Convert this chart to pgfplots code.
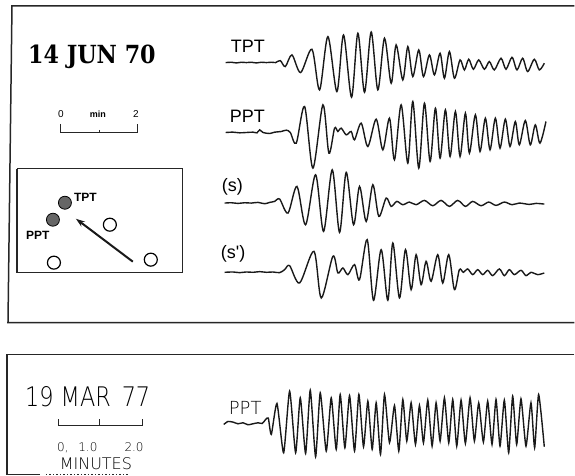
\documentclass[border=0pt]{standalone}
\usepackage{fontspec}
\setmainfont{Liberation Sans}
\newfontfamily\datefont{DejaVu Serif}
\newfontfamily\plotfont{DejaVu Sans ExtraLight}
\usepackage{pgfplots}
\usepackage{pgfplotstable}
\pgfplotsset{compat=1.18}
\usetikzlibrary{arrows.meta}

% TPT trace (crop coords, origin 220,20, scale 3)
\pgfplotstableread{
X Y
18 128
35 127
50 129
65 127
80 128
95 127
110 129
125 127
140 128
155 127
168 128
182 122
197 140
217 105
243 158
277 88
300 210
325 50
352 215
372 45
396 232
415 40
435 217
455 36
475 210
495 55
515 190
530 75
550 180
565 80
580 170
598 90
612 170
630 105
645 165
662 100
675 175
690 95
705 175
722 120
735 150
748 118
762 148
778 120
795 148
810 125
825 150
845 115
860 148
878 112
893 150
910 115
925 155
945 118
960 150
975 130
}\tptA

% PPT trace (origin 220,90)
\pgfplotstableread{
X Y
18 128
40 127
60 129
80 128
100 127
112 129
120 120
130 128
150 131
165 127
185 125
200 121
212 128
230 160
255 50
280 235
310 45
328 190
345 115
355 125
365 115
380 135
395 125
405 150
425 100
445 170
470 88
490 180
510 85
525 210
545 45
565 220
580 35
598 235
615 40
632 215
648 55
662 205
678 60
692 200
708 65
722 200
738 70
750 190
768 75
782 185
798 85
812 180
828 85
842 175
858 88
872 170
888 95
900 165
918 92
933 165
948 105
962 160
980 95
}\pptA

% (s) trace (origin 220,160)
\pgfplotstableread{
X Y
15 130
35 129
55 131
75 129
95 130
115 128
135 132
150 128
165 125
180 118
205 160
232 80
258 195
288 45
312 215
338 30
360 218
380 38
402 195
420 80
440 185
460 75
478 170
500 115
515 140
532 125
550 135
570 127
590 135
615 122
640 138
665 122
690 140
715 122
738 140
760 125
785 138
808 127
830 137
855 127
878 135
900 130
930 134
950 131
975 133
}\sA

% (s') trace (origin 220,220)
\pgfplotstableread{
X Y
15 158
40 157
60 159
80 157
100 158
120 156
140 158
160 157
180 159
195 150
210 138
240 190
283 95
305 235
340 110
355 160
370 145
385 165
405 135
420 180
443 60
462 242
485 90
505 242
520 70
540 235
558 90
575 210
590 105
605 195
620 125
635 185
655 105
670 190
688 105
705 210
720 150
732 158
745 148
760 165
775 150
790 165
805 152
820 168
840 148
855 168
870 150
885 165
905 152
920 168
935 158
955 165
975 160
}\spA

% 19 MAR 77 PPT trace (origin 220,370)
\pgfplotstableread{
X Y
12 165
25 156
40 158
55 163
70 160
85 166
100 163
115 160
128 162
138 150
146 146
155 195
172 102
192 250
210 65
228 250
242 85
258 252
272 62
288 262
302 70
320 245
335 85
350 240
362 75
376 235
390 78
405 245
418 75
432 232
445 95
458 240
470 100
483 255
495 75
510 220
525 108
538 245
550 90
562 215
575 100
588 225
600 108
612 220
625 92
638 230
650 100
662 215
675 85
688 220
700 90
712 230
725 92
738 222
752 85
765 215
778 100
792 218
805 95
818 225
830 90
842 230
855 92
868 250
880 80
892 225
905 88
920 230
935 100
946 235
958 75
975 232
}\pptB

\begin{document}
\begin{tikzpicture}
\begin{axis}[
  width=575pt, height=476pt, scale only axis,
  xmin=0, xmax=575, ymin=0, ymax=476, y dir=reverse,
  hide axis, clip=false,
  trace/.style={smooth, tension=0.5, line width=1.4pt, color=black!90, no marks},
  frame/.style={line width=1.5pt, color=black!85, no marks},
]
\path (rel axis cs:0,0) rectangle (rel axis cs:1,1);

% frames
\addplot[frame] coordinates {(575,6) (12,6) (8,323) (575,323)};
\addplot[frame, line width=1.3pt] coordinates {(17,169) (183,169) (183,273) (17,273) (17,169)};
\addplot[frame] coordinates {(575,355) (7,355) (7,475) (40,475)};
\addplot[frame, dotted, line width=1pt] coordinates {(46,475) (130,475)};

% traces
\addplot[trace] table[x expr=220+\thisrow{X}/3, y expr=20+\thisrow{Y}/3] {\tptA};
\addplot[trace] table[x expr=220+\thisrow{X}/3, y expr=90+\thisrow{Y}/3] {\pptA};
\addplot[trace] table[x expr=220+\thisrow{X}/3, y expr=160+\thisrow{Y}/3] {\sA};
\addplot[trace] table[x expr=220+\thisrow{X}/3, y expr=220+\thisrow{Y}/3] {\spA};
\addplot[trace, tension=0.35] table[x expr=220+\thisrow{X}/3, y expr=370+\thisrow{Y}/3] {\pptB};

% trace labels
\node[anchor=base west, inner sep=0, font=\fontsize{18}{20}\selectfont] at (axis cs:231,53) {TPT};
\node[anchor=base west, inner sep=0, font=\fontsize{18}{20}\selectfont] at (axis cs:230,123) {PPT};
\node[anchor=base west, inner sep=0, font=\fontsize{18}{20}\selectfont] at (axis cs:222,192) {(s)};
\node[anchor=base west, inner sep=0, font=\fontsize{18}{20}\selectfont] at (axis cs:221,259) {(s\textquotesingle)};

% date top
\node[anchor=base west, inner sep=0, font=\datefont\bfseries\fontsize{25}{30}\selectfont] at (axis cs:28,64) {\scalebox{0.89}[1]{14 JUN 70}};

% top scale bar
\addplot[black!85, line width=1.1pt, no marks] coordinates {(61,124) (61,133) (138,133) (138,124)};
\addplot[black!85, line width=1.1pt, no marks] coordinates {(100,130) (100,133)};
\node[anchor=base, inner sep=0, font=\fontsize{10}{12}\selectfont] at (axis cs:61,118) {0};
\node[anchor=base, inner sep=0, font=\bfseries\fontsize{9}{12}\selectfont] at (axis cs:98,118) {min};
\node[anchor=base, inner sep=0, font=\fontsize{10}{12}\selectfont] at (axis cs:136,118) {2};

% inset map
\addplot[only marks, mark=*, mark size=6.5pt, mark options={fill=black!60, draw=black, line width=0.8pt}] coordinates {(65,203) (53,220)};
\addplot[only marks, mark=o, mark size=6.5pt, mark options={line width=1.2pt, draw=black}] coordinates {(110,225) (54,263) (151,260)};
\addplot[black!90, line width=2pt, no marks, -{Stealth[length=9pt,width=6pt]}] coordinates {(133,262) (76,219)};
\node[anchor=base west, inner sep=0, font=\bfseries\fontsize{12}{13}\selectfont] at (axis cs:74,202) {TPT};
\node[anchor=base west, inner sep=0, font=\bfseries\fontsize{12}{13}\selectfont] at (axis cs:26,240) {PPT};

% bottom panel
\node[anchor=base west, inner sep=0, font=\plotfont\fontsize{27}{30}\selectfont] at (axis cs:25,407) {\scalebox{0.83}[1]{19 MAR\, 77}};
\addplot[black!85, line width=1.1pt, no marks] coordinates {(59,420) (59,426) (143,426) (143,420)};
\addplot[black!85, line width=1.1pt, no marks] coordinates {(100,420) (100,426)};
\node[anchor=base west, inner sep=0, font=\plotfont\fontsize{12}{14}\selectfont] at (axis cs:57,452) {0,};
\node[anchor=base, inner sep=0, font=\plotfont\fontsize{12}{14}\selectfont] at (axis cs:88,452) {1.0};
\node[anchor=base east, inner sep=0, font=\plotfont\fontsize{12}{14}\selectfont] at (axis cs:144,452) {2.0};
\node[anchor=base, inner sep=0, font=\plotfont\fontsize{16}{18}\selectfont] at (axis cs:96,470) {MINUTES};
\node[anchor=base west, inner sep=0, font=\plotfont\fontsize{18}{20}\selectfont] at (axis cs:229,415) {PPT};
\end{axis}
\end{tikzpicture}
\end{document}
